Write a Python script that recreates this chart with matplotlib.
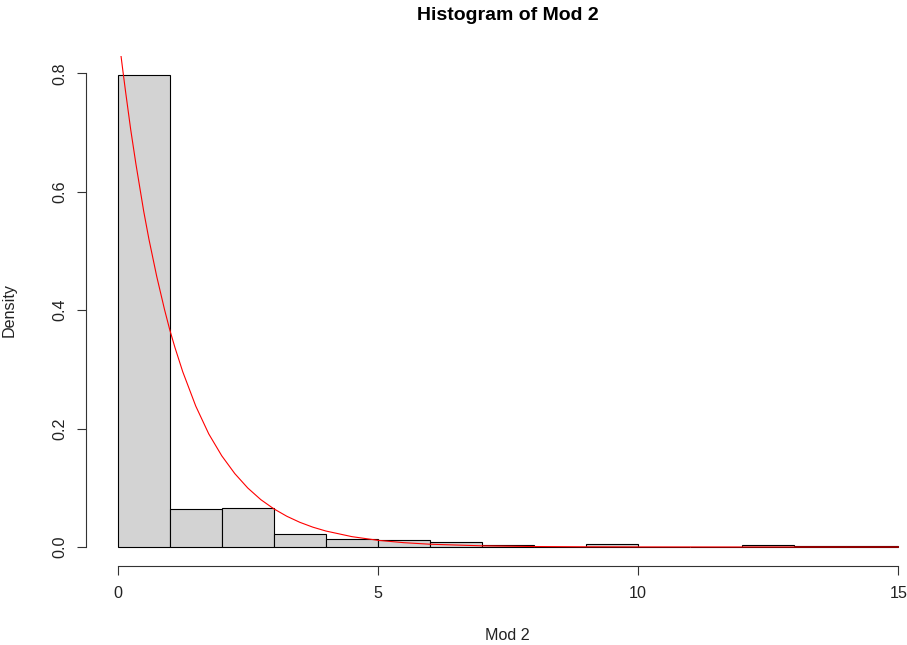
import numpy as np
import matplotlib
matplotlib.use("Agg")
import matplotlib.pyplot as plt

plt.rcParams['font.family'] = ['Liberation Sans', 'DejaVu Sans']

# Границы интервалов и плотности столбцов гистограммы
bin_edges = list(range(0, 16))
densities = [0.797, 0.064, 0.0655, 0.0215, 0.014, 0.0125, 0.009, 0.004,
             0.0, 0.0045, 0.0, 0.0, 0.003, 0.0015, 0.0015]

# Точки красной кривой плотности
curve_x = [0.06, 0.1, 0.15, 0.25, 0.35, 0.5, 0.6, 0.75, 0.9, 1.0, 1.1, 1.25,
           1.5, 1.75, 2.0, 2.25, 2.5, 2.75, 3.0, 3.25, 3.5, 3.75, 4.0, 4.5,
           5.0, 5.5, 6.0, 7.0, 8.0, 9.0, 10.0, 12.0, 15.0]
curve_y = [0.832, 0.804, 0.770, 0.705, 0.647, 0.567, 0.520, 0.457, 0.401,
           0.367, 0.337, 0.296, 0.238, 0.191, 0.154, 0.124, 0.0996, 0.080,
           0.0645, 0.0519, 0.0417, 0.0335, 0.027, 0.0175, 0.0113, 0.0073,
           0.0047, 0.002, 0.0008, 0.00035, 0.00015, 0.00003, 0.0]

x_ticks = [0, 5, 10, 15]
y_ticks = [0.0, 0.2, 0.4, 0.6, 0.8]

W, H, DPI = 907, 645, 100
fig = plt.figure(figsize=(W / DPI, H / DPI), dpi=DPI)

# Пределы осей как в R (4% запаса)
x_lo, x_hi = bin_edges[0], bin_edges[-1]
x_pad = 0.04 * (x_hi - x_lo)
y_max = max(densities)
xlim = (x_lo - x_pad, x_hi + x_pad)
ylim = (-0.04 * y_max, 1.04 * y_max)

# Пиксельная привязка: x=0 -> 117.7px, 52.04 px на единицу; y=0 -> 547px, 592 px на единицу
px_x0, px_per_x = 117.7, 52.04
px_y0, px_per_y = 547.0, 592.0
left = px_x0 + xlim[0] * px_per_x
right = px_x0 + xlim[1] * px_per_x
bottom = px_y0 - ylim[0] * px_per_y
top = px_y0 - ylim[1] * px_per_y
ax = fig.add_axes([left / W, 1 - bottom / H, (right - left) / W, (bottom - top) / H])

# Столбцы
ax.bar(bin_edges[:-1], densities, width=np.diff(bin_edges), align='edge',
       facecolor='#D3D3D3', edgecolor='black', linewidth=0.8)

# Кривая плотности
ax.plot(curve_x, curve_y, color='red', linewidth=0.8)

ax.set_xlim(*xlim)
ax.set_ylim(*ylim)

# Оси в стиле R
for side in ['top', 'right']:
    ax.spines[side].set_visible(False)
ax.spines['left'].set_bounds(y_ticks[0], y_ticks[-1])
ax.spines['bottom'].set_bounds(x_ticks[0], x_ticks[-1])
for side in ['left', 'bottom']:
    ax.spines[side].set_linewidth(0.8)
    ax.spines[side].set_color('#333333')

ax.set_xticks(x_ticks)
ax.set_xticklabels([str(t) for t in x_ticks])
ax.set_yticks(y_ticks)
ax.set_yticklabels([f"{t:.1f}" for t in y_ticks], rotation=90, va='center')
ax.tick_params(direction='out', length=6.5, width=0.8, color='#333333',
               labelsize=11.6, labelcolor='#222222')
ax.tick_params(axis='x', pad=8)
ax.tick_params(axis='y', pad=7)

# Подписи
fig.text(507.5 / W, 1 - 15 / H, "Histogram of Mod 2", ha='center', va='center',
         fontsize=14, fontweight='bold')
fig.text(507.5 / W, 1 - 636 / H, "Mod 2", ha='center', va='center', fontsize=11.6,
         color='#222222')
fig.text(9 / W, 1 - 310 / H, "Density", ha='center', va='center', rotation=90,
         fontsize=11.6, color='#222222')

fig.savefig("out.png", dpi=DPI)
